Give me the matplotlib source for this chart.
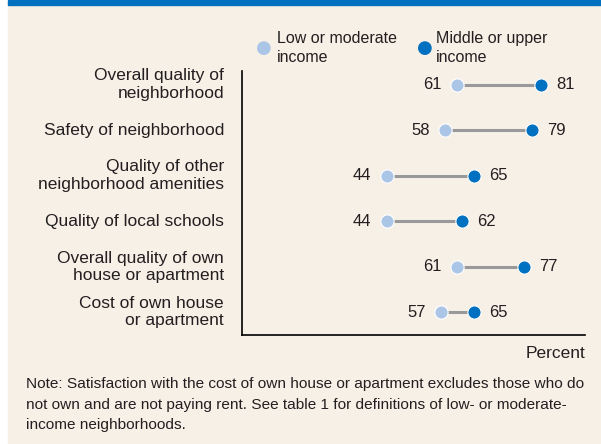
import matplotlib.pyplot as plt
from matplotlib.patches import Rectangle

# data
categories = ["Overall quality of\nneighborhood", "Safety of neighborhood",
              "Quality of other\nneighborhood amenities", "Quality of local schools",
              "Overall quality of own\nhouse or apartment", "Cost of own house\nor apartment"]
low_income = [61, 58, 44, 44, 61, 57]
upper_income = [81, 79, 65, 62, 77, 65]

LIGHT = "#abc5e7"
DARK = "#0070c0"
BG = "#f6f0e7"
TXT = "#231f20"
plt.rcParams["font.family"] = ["Liberation Sans", "DejaVu Sans"]

W, H = 601, 444
fig = plt.figure(figsize=(W / 100, H / 100), dpi=100)
fig.patch.set_facecolor("white")
fig.add_artist(Rectangle((8 / W, 0), 1, 1, transform=fig.transFigure, color=BG, zorder=-2))
fig.add_artist(Rectangle((8 / W, 1 - 5 / H), 1, 5 / H, transform=fig.transFigure, color="#0070bf", zorder=-1))

# axes box in pixels: left 242, right 585, top 71, bottom 335
ax = fig.add_axes([242 / W, 1 - 335 / H, (585 - 242) / W, (335 - 71) / H])
ax.set_facecolor("none")
ax.set_xlim(9.2, 91.7)
ax.set_ylim(5.5, -0.3)
for s in ["top", "right"]:
    ax.spines[s].set_visible(False)
ax.spines["left"].set_linewidth(1.2)
ax.spines["bottom"].set_linewidth(1.2)
ax.set_xticks([])
ax.set_yticks([])

for i, (lo, hi) in enumerate(zip(low_income, upper_income)):
    ax.plot([lo, hi], [i, i], color="#999999", lw=2.2, zorder=1)
    ax.plot(lo, i, "o", ms=9.5, color=LIGHT, mec="white", mew=0.8, zorder=2)
    ax.plot(hi, i, "o", ms=9.5, color=DARK, mec="white", mew=0.8, zorder=2)
    ax.annotate(str(lo), (lo, i), xytext=(-11, 0), textcoords="offset points",
                ha="right", va="center", fontsize=12, color=TXT)
    ax.annotate(str(hi), (hi, i), xytext=(11, 0), textcoords="offset points",
                ha="left", va="center", fontsize=12, color=TXT)
    ax.annotate(categories[i], (0, i), xycoords=("axes fraction", "data"),
                xytext=(-13, 0), textcoords="offset points",
                ha="right", va="center", fontsize=12.5, color=TXT,
                linespacing=1.2)

ax.text(1.0, -0.04, "Percent", transform=ax.transAxes, ha="right", va="top",
        fontsize=12.5, color=TXT)

# legend
fig.text(264 / W, 1 - 48 / H, "\u25CF", color=LIGHT, fontsize=13, ha="center", va="center",
         family="DejaVu Sans")
fig.text(277 / W, 1 - 48 / H, "Low or moderate\nincome", fontsize=11.5, ha="left", va="center",
         color=TXT, linespacing=1.3)
fig.text(424.5 / W, 1 - 48 / H, "\u25CF", color=DARK, fontsize=13, ha="center", va="center",
         family="DejaVu Sans")
fig.text(436 / W, 1 - 48 / H, "Middle or upper\nincome", fontsize=11.5, ha="left", va="center",
         color=TXT, linespacing=1.3)

note = ("Note: Satisfaction with the cost of own house or apartment excludes those who do\n"
        "not own and are not paying rent. See table 1 for definitions of low- or moderate-\n"
        "income neighborhoods.")
fig.text(26 / W, 1 - 377 / H, note, fontsize=11.1, ha="left", va="top", color=TXT,
         linespacing=1.6)

fig.savefig("out.png", dpi=100, facecolor=fig.get_facecolor())
